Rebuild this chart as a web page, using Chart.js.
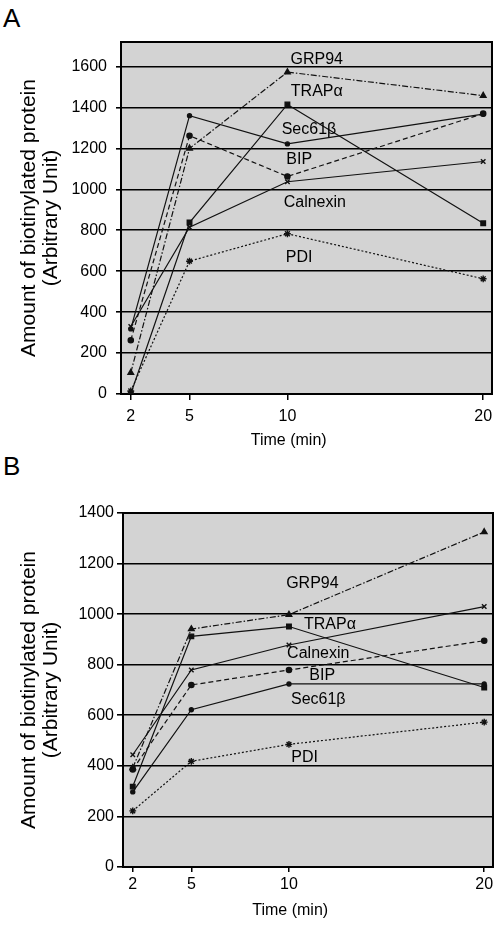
<!DOCTYPE html>
<html><head><meta charset="utf-8">
<script src="https://cdn.jsdelivr.net/npm/chart.js@4"></script>
<style>
html,body{margin:0;padding:0;background:#fff;}
body{width:500px;height:926px;position:relative;overflow:hidden;font-family:"Liberation Sans",Arial,sans-serif;}
.panel{position:absolute;left:0;width:500px;height:463px;}
.letter{position:absolute;left:3px;font-size:26px;line-height:26px;color:#000;}
</style></head><body>
<div class="letter" style="top:5px">A</div>
<div class="letter" style="top:453px">B</div>
<div class="panel" style="top:0"><canvas id="ca" width="500" height="463"></canvas></div>
<div class="panel" style="top:463px"><canvas id="cb" width="500" height="463"></canvas></div>
<script>
// ---- data ----
const times = [2, 5, 10, 20];
const xTickValues = [2, 5, 10, 20];
const seriesNames = ['GRP94', 'TRAPα', 'Sec61β', 'BIP', 'Calnexin', 'PDI'];

// Panel A
const grp94A    = [104, 1200, 1573, 1458];
const trapA     = [0, 838, 1415, 834];
const sec61A    = [318, 1360, 1222, 1368];
const bipA      = [263, 1262, 1063, 1370];
const calnexinA = [330, 815, 1037, 1136];
const pdiA      = [15, 649, 783, 563];
const yTicksA   = [0, 200, 400, 600, 800, 1000, 1200, 1400, 1600];

// Panel B
const grp94B    = [392, 941, 998, 1325];
const trapB     = [318, 912, 951, 710];
const sec61B    = [297, 622, 724, 724];
const bipB      = [386, 720, 779, 895];
const calnexinB = [444, 779, 878, 1030];
const pdiB      = [222, 418, 485, 573];
const yTicksB   = [0, 200, 400, 600, 800, 1000, 1200, 1400];

const xTitle = 'Time (min)';
const yTitle = ['Amount of biotinylated protein', '(Arbitrary Unit)'];

// ---- styles ----
const FONT = '"Liberation Sans", Arial, sans-serif';
const seriesStyle = {
  'GRP94':    {dash: [6, 2, 1.5, 2], pt: 'triangle', r: 3.2},
  'TRAPα':    {dash: [], pt: 'rect', r: 3.2},
  'Sec61β':   {dash: [], pt: 'circle', r: 2},
  'BIP':      {dash: [5, 3], pt: 'circle', r: 2.6},
  'Calnexin': {dash: [], pt: 'crossRot', r: 3.2},
  'PDI':      {dash: [2, 2], pt: 'star', r: 3.4}
};

function makeDatasets(valuesList) {
  return valuesList.map((vals, i) => {
    const name = seriesNames[i];
    const st = seriesStyle[name];
    return {
      label: name,
      data: times.map((t, j) => ({x: t, y: vals[j]})),
      borderColor: '#111',
      backgroundColor: '#111',
      borderWidth: 1.2,
      borderDash: st.dash,
      pointStyle: st.pt,
      pointRadius: st.r,
      pointBorderWidth: 1.4,
      pointBorderColor: '#111',
      pointBackgroundColor: '#111',
      tension: 0,
      fill: false
    };
  });
}

const panelPlugin = {
  id: 'panel',
  beforeDraw(chart, args, opts) {
    const {ctx, chartArea: a} = chart;
    ctx.save();
    ctx.fillStyle = '#d3d3d3';
    ctx.fillRect(a.left, a.top, a.right - a.left, a.bottom - a.top);
    ctx.restore();
  },
  beforeDatasetsDraw(chart, args, opts) {
    const {ctx, chartArea: a} = chart;
    ctx.save();
    ctx.strokeStyle = '#000';
    ctx.lineWidth = 2;
    ctx.strokeRect(a.left, a.top, a.right - a.left, a.bottom - a.top);
    ctx.restore();
  },
  afterDatasetsDraw(chart, args, opts) {
    const {ctx} = chart;
    const xs = chart.scales.x, ys = chart.scales.y;
    ctx.save();
    ctx.fillStyle = '#000';
    ctx.font = '16px ' + FONT;
    ctx.textAlign = 'center';
    ctx.textBaseline = 'middle';
    (opts.labels || []).forEach(l => {
      ctx.fillText(l.text, xs.getPixelForValue(l.x), ys.getPixelForValue(l.y));
    });
    ctx.restore();
  }
};

function makeChart(id, valuesList, yTicks, cfg) {
  return new Chart(document.getElementById(id), {
    type: 'line',
    data: {datasets: makeDatasets(valuesList)},
    plugins: [panelPlugin],
    options: {
      responsive: false,
      animation: false,
      devicePixelRatio: 1,
      layout: {padding: {top: cfg.top, right: cfg.right, bottom: 0, left: 0}},
      plugins: {
        legend: {display: false},
        tooltip: {enabled: false},
        panel: {labels: cfg.labels}
      },
      scales: {
        x: {
          type: 'linear',
          min: 1.5,
          max: 20.45,
          afterBuildTicks: s => { s.ticks = xTickValues.map(v => ({value: v})); },
          afterFit: s => { s.height = cfg.xHeight; },
          grid: {display: true, drawOnChartArea: false, drawTicks: true, tickLength: cfg.xTickLen, color: '#000', lineWidth: 1.5},
          border: {display: true, color: '#000', width: 2},
          ticks: {color: '#000', font: {size: 16, family: FONT}, padding: cfg.xPad, maxRotation: 0, autoSkip: false, callback: v => String(v)},
          title: {display: true, text: xTitle + '\u00a0'.repeat(8), color: '#000', font: {size: 16, family: FONT}, padding: {top: 0, bottom: cfg.xTitlePad}}
        },
        y: {
          min: 0,
          max: cfg.yMax,
          afterBuildTicks: s => { s.ticks = yTicks.map(v => ({value: v})); },
          afterFit: s => { s.width = cfg.yWidth; },
          grid: {color: '#000', lineWidth: 1.6, tickLength: cfg.yTickLen},
          border: {display: true, color: '#000', width: 2},
          ticks: {color: '#000', font: {size: 16, family: FONT}, padding: cfg.yPad, callback: v => String(v)},
          title: {display: true, text: yTitle, color: '#000', font: {size: 21, family: FONT, lineHeight: 1.05}, padding: {top: 18, bottom: 0}}
        }
      }
    }
  });
}

makeChart('ca', [grp94A, trapA, sec61A, bipA, calnexinA, pdiA], yTicksA, {
  top: 42, right: 8, xHeight: 69, xTickLen: 6, xPad: 7, xTitlePad: 13,
  yMax: 1720, yWidth: 121, yTickLen: 5, yPad: 9,
  labels: [
    {text: 'GRP94', x: 11.5, y: 1635},
    {text: 'TRAPα', x: 11.5, y: 1479},
    {text: 'Sec61β', x: 11.1, y: 1294},
    {text: 'BIP', x: 10.6, y: 1144},
    {text: 'Calnexin', x: 11.4, y: 934},
    {text: 'PDI', x: 10.6, y: 667}
  ]
});

makeChart('cb', [grp94B, trapB, sec61B, bipB, calnexinB, pdiB], yTicksB, {
  top: 50, right: 7, xHeight: 59, xTickLen: 5, xPad: 3, xTitlePad: 6,
  yMax: 1400, yWidth: 123, yTickLen: 6, yPad: 3,
  labels: [
    {text: 'GRP94', x: 11.2, y: 1120},
    {text: 'TRAPα', x: 12.1, y: 958},
    {text: 'Calnexin', x: 11.5, y: 844},
    {text: 'BIP', x: 11.7, y: 757},
    {text: 'Sec61β', x: 11.5, y: 662},
    {text: 'PDI', x: 10.8, y: 434}
  ]
});
</script>
</body></html>
